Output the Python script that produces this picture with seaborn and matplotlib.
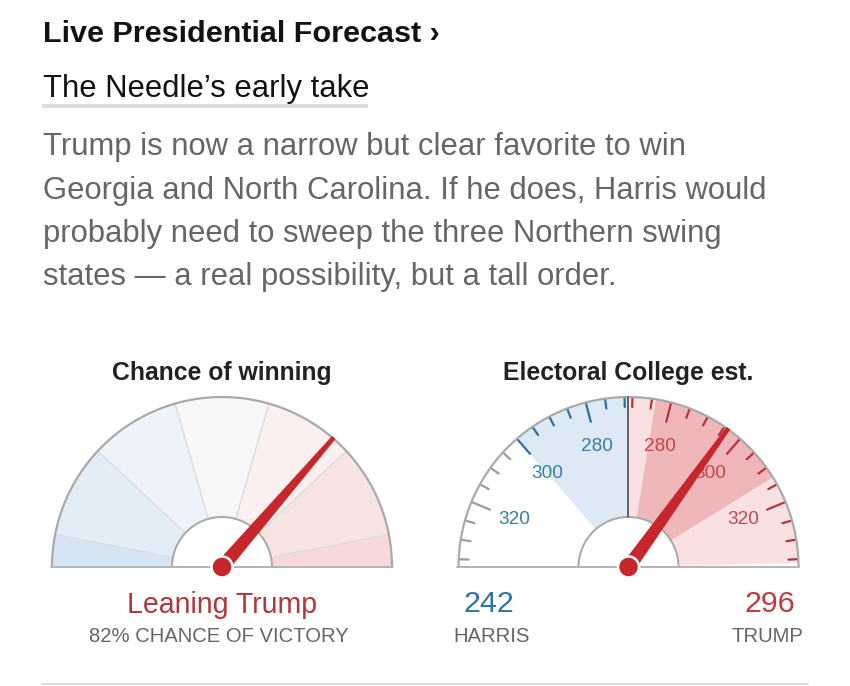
import numpy as np
import matplotlib.pyplot as plt
import seaborn as sns

# ---- data ----
# chance-of-winning gauge: category edges (Trump win %) and their fills, left (Harris) to right (Trump)
chance_breaks = [0, 5, 15, 40, 60, 85, 95, 100]
chance_angles = [-90, -79, -47, -16, 16, 47, 79, 90]  # nonlinear needle scale
chance_colors = ["#d6e5f3", "#e3edf7", "#eef3fa", "#f7f7f7", "#fcefef", "#f8e3e3", "#f7d9d9"]
trump_chance = 82
needle_chance = 80  # needle jitters a little below the headline number

# electoral college gauge (Trump electoral votes, tie at 269)
ev_tie = 269
ev_half_span = 68
ev_range_outer = [238, 336]
ev_range_inner = [276, 313]
harris_ev = 242
trump_ev = 296
tick_values = list(range(270, 340, 5))
label_values = [280, 300, 320]

title = "Live Presidential Forecast \u203a"
subtitle = "The Needle\u2019s early take"
paragraph = ["Trump is now a narrow but clear favorite to win",
             "Georgia and North Carolina. If he does, Harris would",
             "probably need to sweep the three Northern swing",
             "states \u2014 a real possibility, but a tall order."]

BLUE = "#2f73ab"
RED = "#c0393f"
GRAY_TXT = "#666666"
ARC = "#a9a9a9"

sns.set_theme(style="white")
plt.rcParams["font.family"] = ["Liberation Sans", "DejaVu Sans"]

fig = plt.figure(figsize=(8.5, 6.86), dpi=100)
ax = fig.add_axes([0, 0, 1, 1])
ax.set_xlim(0, 850)
ax.set_ylim(686, 0)
ax.axis("off")

R, R_IN = 170, 50
CY = 567
LCX, RCX = 222, 628.5


def pt(px):
    return px * 0.72


def sector(cx, cy, a0, a1, r0, r1, n=80):
    a = np.radians(np.linspace(a0, a1, n))
    xs = np.r_[cx + r1 * np.sin(a), cx + r0 * np.sin(a[::-1])]
    ys = np.r_[cy - r1 * np.cos(a), cy - r0 * np.cos(a[::-1])]
    return xs, ys


def radial(cx, cy, a, r0, r1):
    a = np.radians(a)
    return ([cx + r0 * np.sin(a), cx + r1 * np.sin(a)],
            [cy - r0 * np.cos(a), cy - r1 * np.cos(a)])


def frame(cx):
    a = np.radians(np.linspace(-90, 90, 200))
    ax.plot(cx + R * np.sin(a), CY - R * np.cos(a), color=ARC, lw=pt(2.2), zorder=3)
    xs, ys = sector(cx, CY, -90, 90, 0, R_IN)
    ax.fill(xs, ys, color="white", lw=0, zorder=3)
    ax.plot(cx + R_IN * np.sin(a), CY - R_IN * np.cos(a), color=ARC, lw=pt(2), zorder=3)
    ax.plot([cx - R - 1, cx + R + 1], [CY, CY], color="#b5b5b5", lw=pt(2), zorder=3)


def needle(cx, a):
    a = np.radians(a)
    u = np.array([np.sin(a), -np.cos(a)])
    p = np.array([np.cos(a), np.sin(a)])
    c = np.array([cx, CY])
    tip = c + (R + 1) * u
    poly = np.array([c + 7 * p, tip + 2.3 * p, tip - 2.3 * p, c - 7 * p])
    ax.fill(poly[:, 0], poly[:, 1], color="#c8262d", lw=0, zorder=6)
    ax.add_patch(plt.Circle((cx, CY), 10.5, facecolor="#c8262d", edgecolor="white",
                            lw=pt(2.5), zorder=7))


# ---- header text ----
ax.text(43, 41.5, title, fontsize=pt(30.5), fontweight="bold", color="#121212", va="baseline")
ax.text(43, 96.5, subtitle, fontsize=pt(31), color="#121212", va="baseline")
ax.plot([42, 368], [106, 106], color="#dddddd", lw=pt(4), solid_capstyle="butt")
for i, line in enumerate(paragraph):
    ax.text(43, 155 + i * 43.5, line, fontsize=pt(31), color=GRAY_TXT, va="baseline")

# ---- chance of winning gauge ----
ax.text(LCX, 380, "Chance of winning", fontsize=pt(24.7), fontweight="bold",
        color="#222222", ha="center", va="baseline")
edges = np.interp(chance_breaks, chance_breaks, chance_angles)
for a0, a1, col in zip(edges[:-1], edges[1:], chance_colors):
    xs, ys = sector(LCX, CY, a0, a1, R_IN, R)
    ax.fill(xs, ys, color=col, lw=0, zorder=1)
for a in edges[1:-1]:
    xs, ys = radial(LCX, CY, a, R_IN, R)
    ax.plot(xs, ys, color="#dddddd", lw=pt(1.5), zorder=2)
frame(LCX)
needle(LCX, np.interp(needle_chance, chance_breaks, chance_angles))
ax.text(LCX, 613, "Leaning Trump", fontsize=pt(28.5), color="#b5353b", ha="center", va="baseline")
ax.text(219, 642, f"{trump_chance}% CHANCE OF VICTORY", fontsize=pt(20.3), color=GRAY_TXT,
        ha="center", va="baseline")

# ---- electoral college gauge ----
ax.text(RCX, 380, "Electoral College est.", fontsize=pt(24.7), fontweight="bold",
        color="#222222", ha="center", va="baseline")


def ev_angle(v):
    return (v - ev_tie) * 90 / ev_half_span


bands = [(ev_range_outer[0], ev_tie, "#dde9f4"),
         (ev_tie, ev_range_inner[0], "#f9e0e1"),
         (ev_range_inner[0], ev_range_inner[1], "#f0b7ba"),
         (ev_range_inner[1], ev_range_outer[1], "#f9e0e1")]
for v0, v1, col in bands:
    xs, ys = sector(RCX, CY, ev_angle(v0), ev_angle(v1), R_IN, R)
    ax.fill(xs, ys, color=col, lw=0, zorder=1)

for v in tick_values:
    size = 20 if v in label_values else 10
    # Harris side (mirror of Trump votes)
    h_col = "#2e6e9e" if 538 - v >= ev_range_outer[0] else "#9a9a9a"
    xs, ys = radial(RCX, CY, ev_angle(538 - v), R - 1, R - size)
    ax.plot(xs, ys, color=h_col, lw=pt(2.2), zorder=2)
    t_col = "#b8323b" if v <= ev_range_outer[1] else "#9a9a9a"
    xs, ys = radial(RCX, CY, ev_angle(v), R - 1, R - size)
    ax.plot(xs, ys, color=t_col, lw=pt(2.2), zorder=2)

for v in label_values:
    for val, col in [(538 - v, "#3a7cae"), (v, "#c4464c")]:
        a = np.radians(ev_angle(val))
        ax.text(RCX + 124 * np.sin(a), CY - 124 * np.cos(a), str(v), fontsize=pt(19),
                color=col, ha="center", va="center", zorder=4)

xs, ys = radial(RCX, CY, 0, R_IN, R)
ax.plot(xs, ys, color="#666666", lw=pt(2), zorder=4)
frame(RCX)
needle(RCX, ev_angle(trump_ev))

ax.text(464, 612, str(harris_ev), fontsize=pt(30.5), color=BLUE, va="baseline")
ax.text(453, 642, "HARRIS", fontsize=pt(20.3), color=GRAY_TXT, va="baseline")
ax.text(795, 612, str(trump_ev), fontsize=pt(30.5), color=RED, ha="right", va="baseline")
ax.text(803, 642, "TRUMP", fontsize=pt(20.3), color=GRAY_TXT, ha="right", va="baseline")

ax.plot([42, 808], [684, 684], color="#dddddd", lw=pt(2))

fig.savefig("out.png", dpi=100)
